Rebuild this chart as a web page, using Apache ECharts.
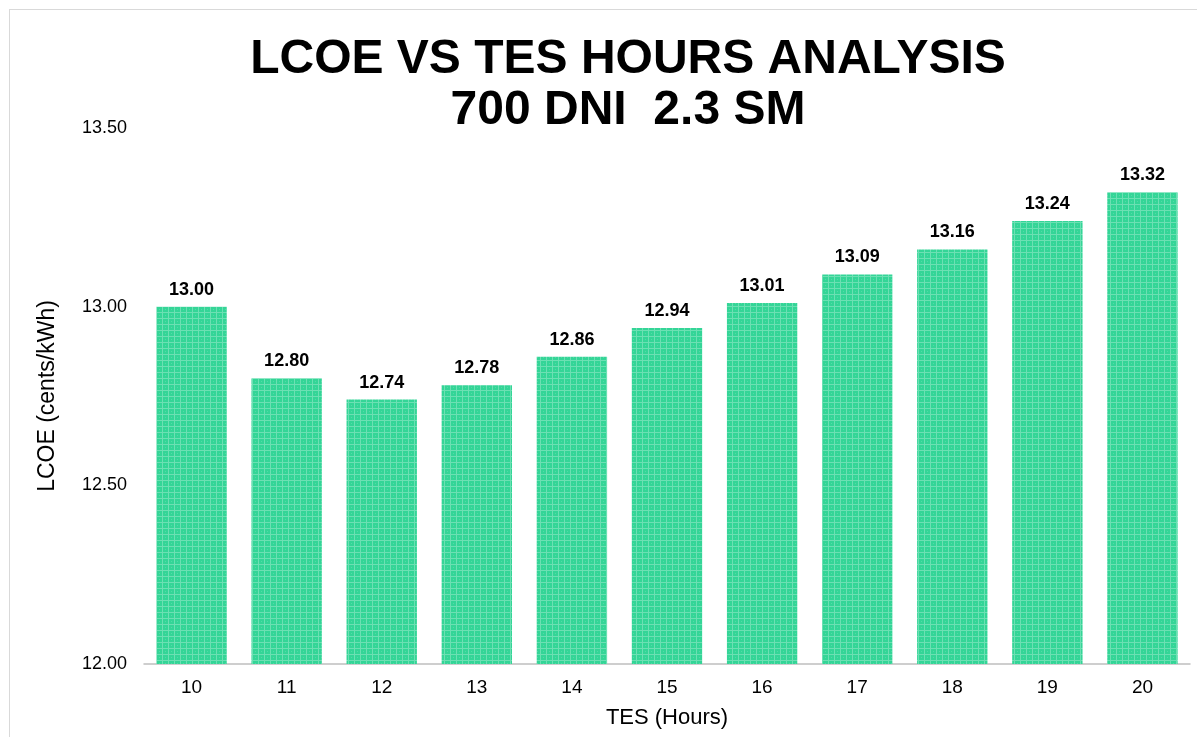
<!DOCTYPE html>
<html>
<head>
<meta charset="utf-8">
<script src="https://cdn.jsdelivr.net/npm/echarts@6/dist/echarts.min.js"></script>
<style>
  html, body { margin: 0; padding: 0; background: #fff; }
  #frame { position: absolute; left: 9px; top: 9px; width: 1300px; height: 900px; border: 1px solid #d9d9d9; }
  #chart { position: absolute; left: 0; top: 0; width: 1197px; height: 737px; }
</style>
</head>
<body>
<div id="frame"></div>
<div id="chart"></div>
<script>
const tesHours = ['10', '11', '12', '13', '14', '15', '16', '17', '18', '19', '20']
const lcoe = [13.00, 12.80, 12.74, 12.78, 12.86, 12.94, 13.01, 13.09, 13.16, 13.24, 13.32]
const yTicks = [12.0, 12.5, 13.0, 13.5]

// checkered green fill like the original
function makePattern() {
  const c = document.createElement('canvas')
  c.width = 6
  c.height = 6
  const ctx = c.getContext('2d')
  ctx.fillStyle = '#34d597'
  ctx.fillRect(0, 0, 6, 6)
  ctx.fillStyle = '#6ce0b3'
  ctx.fillRect(0, 0, 6, 1)
  ctx.fillRect(0, 0, 1, 6)
  ctx.fillStyle = '#52dba6'
  ctx.fillRect(3, 3, 1, 1)
  return c
}

const chart = echarts.init(document.getElementById('chart'))
chart.setOption({
  animation: false,
  title: {
    text: 'LCOE VS TES HOURS ANALYSIS\n700 DNI  2.3 SM',
    left: 623,
    top: 29,
    textAlign: 'center',
    textStyle: {
      fontFamily: 'Liberation Sans',
      fontWeight: 'bold',
      fontSize: 48,
      lineHeight: 51,
      color: '#000'
    }
  },
  grid: { left: 144, right: 7, top: 128, bottom: 73 },
  xAxis: {
    type: 'category',
    data: tesHours,
    name: 'TES (Hours)',
    nameLocation: 'middle',
    nameGap: 43,
    nameTextStyle: { fontFamily: 'Liberation Sans', fontSize: 22, color: '#000' },
    axisLine: { lineStyle: { color: '#bfbfbf', width: 1.5 } },
    axisTick: { show: false },
    axisLabel: { fontFamily: 'Liberation Sans', fontSize: 19, color: '#000', margin: 14 }
  },
  yAxis: {
    type: 'value',
    min: yTicks[0],
    max: yTicks[yTicks.length - 1],
    interval: 0.5,
    name: 'LCOE (cents/kWh)',
    nameLocation: 'middle',
    nameGap: 85,
    nameTextStyle: { fontFamily: 'Liberation Sans', fontSize: 23, color: '#000' },
    axisLine: { show: false },
    axisTick: { show: false },
    splitLine: { show: false },
    axisLabel: {
      fontFamily: 'Liberation Sans',
      fontSize: 18,
      color: '#000',
      margin: 17,
      formatter: v => v.toFixed(2)
    }
  },
  series: [{
    type: 'bar',
    data: lcoe,
    barWidth: '74%',
    itemStyle: {
      color: { image: makePattern(), repeat: 'repeat' }
    },
    label: {
      show: true,
      position: 'top',
      distance: 8,
      fontFamily: 'Liberation Sans',
      fontWeight: 'bold',
      fontSize: 18,
      color: '#000',
      formatter: p => p.value.toFixed(2)
    }
  }]
})
</script>
</body>
</html>
